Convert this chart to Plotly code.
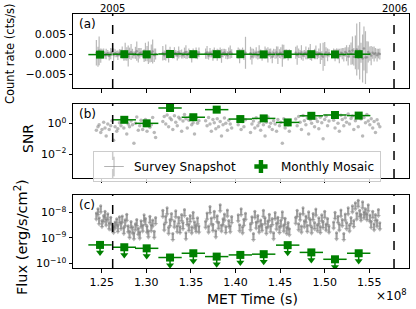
import plotly.graph_objects as go

# ---------------- data (time in units of 1e8 s MET) ----------------
snap_time = [
    1.2440, 1.2458, 1.2471, 1.2489, 1.2503, 1.2522, 1.2537, 1.2550, 1.2568, 1.2584,
    1.2601, 1.2615, 1.2633, 1.2650, 1.2668, 1.2681, 1.2699, 1.2716, 1.2730, 1.2748,
    1.2763, 1.2781, 1.2797, 1.2812, 1.2829, 1.2845, 1.2861, 1.2878, 1.2893, 1.2910,
    1.2926, 1.2941, 1.2959, 1.2975, 1.2990, 1.3008, 1.3023, 1.3040, 1.3056, 1.3071,
    1.3089, 1.3104,
    1.3185, 1.3201, 1.3218, 1.3233, 1.3250, 1.3266, 1.3282, 1.3297, 1.3315, 1.3330,
    1.3347, 1.3363, 1.3378, 1.3396, 1.3411, 1.3428, 1.3444, 1.3459, 1.3477, 1.3492,
    1.3509, 1.3525, 1.3540, 1.3558, 1.3574, 1.3590,
    1.3665, 1.3681, 1.3698, 1.3714, 1.3729, 1.3747, 1.3762, 1.3779, 1.3795, 1.3810,
    1.3828, 1.3843, 1.3860, 1.3876, 1.3891, 1.3909, 1.3924, 1.3941, 1.3957,
    1.4030, 1.4046, 1.4063, 1.4079, 1.4094, 1.4112, 1.4168, 1.4184, 1.4201, 1.4217,
    1.4232, 1.4250, 1.4265, 1.4282, 1.4298, 1.4313, 1.4331, 1.4346, 1.4363, 1.4379,
    1.4394, 1.4412, 1.4427, 1.4444, 1.4460, 1.4475, 1.4493, 1.4508, 1.4525, 1.4541,
    1.4556, 1.4574, 1.4590, 1.4603,
    1.4675, 1.4691, 1.4708, 1.4724, 1.4739, 1.4757, 1.4772, 1.4789, 1.4805, 1.4820,
    1.4838, 1.4853, 1.4870, 1.4886, 1.4901, 1.4919, 1.4934, 1.4951, 1.4967, 1.4982,
    1.5000, 1.5015, 1.5032, 1.5048,
    1.5100, 1.5116, 1.5133, 1.5149, 1.5164, 1.5182, 1.5197, 1.5214, 1.5230, 1.5245,
    1.5263, 1.5278, 1.5295, 1.5311, 1.5326, 1.5344, 1.5359, 1.5376, 1.5392, 1.5407,
    1.5425, 1.5440, 1.5457, 1.5473, 1.5488, 1.5506, 1.5521, 1.5538, 1.5554, 1.5569,
    1.5587, 1.5602, 1.5618,
]

# count rate and its error, in units of 1e-3 cts/s
snap_rate_mcts = [
    0.4, -0.6, 0.9, -0.3, 0.2, 0.5, -0.2, 0.1, 0.3, -0.4,
    0.2, 0.6, -0.1, 0.3, 0.1, -0.2, 0.4, 0.2, 0.5, -0.3,
    0.7, 0.1, -0.4, 0.3, 0.6, 0.2, -0.1, 0.4, 0.8, -0.2,
    0.3, 0.5, 0.1, -0.3, 0.6, 0.2, 0.4, -0.5, 0.3, 0.7,
    -0.2, 0.1,
    0.3, -0.2, 0.5, 0.1, -0.4, 0.6, 0.2, -0.1, 0.4, 0.3,
    -0.3, 0.5, 0.2, 0.1, -0.2, 0.4, 0.6, -0.1, 0.3, 0.2,
    -0.5, 0.4, 0.1, 0.3, -0.2, 0.5,
    0.2, 0.5, -0.3, 0.4, 0.1, -0.2, 0.6, 0.3, -0.1, 0.2,
    0.4, -0.4, 0.3, 0.5, 0.1, -0.2, 0.3, 0.6, 0.2,
    0.3, -0.4, 0.2, 0.5, -0.1, 0.4, 0.3, -0.5, 0.2, 0.1,
    0.4, -0.2, 0.6, 0.2, -0.3, 0.1, 0.5, 0.3, -0.1, 0.4,
    0.2, -0.6, 0.3, 0.1, 0.5, -0.2, 0.2, 0.4, -0.3, 0.6,
    0.1, 0.3, -0.2, 0.2,
    0.4, -0.2, 0.3, 0.1, 0.5, -0.3, 0.2, 0.4, -0.1, 0.3,
    0.6, -0.4, 0.2, 0.1, 0.5, -0.2, 0.3, 0.2, -0.3, -0.6,
    0.1, 0.5, -0.1, 0.3,
    0.3, -0.2, 0.5, 0.1, -0.4, 0.4, 0.2, -0.1, 0.6, 0.3,
    -0.5, 0.8, 0.2, 1.0, -0.6, 0.5, 1.2, -0.8, 0.9, 0.4,
    -1.0, 1.5, -0.8, -0.7, 0.6, 0.2, -0.3, 0.4, 0.1, 0.3,
    -0.2, 0.2, 0.1,
]
snap_err_mcts = [
    3.2, 2.5, 3.6, 1.8, 1.2, 1.0, 0.9, 1.3, 0.8, 1.1,
    1.4, 0.9, 1.6, 1.0, 0.8, 1.2, 0.9, 1.1, 1.5, 1.3,
    2.2, 1.7, 2.6, 1.4, 2.0, 1.2, 0.9, 1.5, 2.4, 1.8,
    1.3, 1.1, 0.9, 1.6, 2.3, 1.9, 2.8, 1.5, 2.2, 3.0,
    1.7, 1.4,
    1.8, 1.2, 2.0, 1.1, 1.6, 1.3, 0.9, 1.0, 1.4, 0.8,
    1.2, 1.5, 0.9, 1.1, 0.8, 1.3, 1.7, 1.0, 1.2, 0.9,
    1.5, 1.1, 0.8, 1.4, 1.0, 1.2,
    1.3, 1.6, 1.0, 1.2, 0.9, 1.4, 1.1, 0.8, 1.5, 1.0,
    1.3, 1.7, 1.1, 0.9, 1.2, 1.0, 1.4, 1.6, 1.1,
    1.4, 1.8, 1.1, 1.2, 1.3, 4.0, 1.6, 2.0, 1.2, 0.9,
    1.4, 1.1, 1.7, 1.0, 1.3, 0.8, 1.5, 1.2, 1.9, 1.0,
    1.3, 1.6, 1.1, 1.2, 1.5, 2.2, 1.1, 1.4, 2.8, 1.8,
    1.2, 1.0, 1.3, 1.1,
    1.5, 2.4, 1.2, 1.0, 1.8, 1.3, 0.9, 1.6, 1.1, 1.4,
    2.0, 1.2, 0.8, 1.3, 1.7, 1.0, 1.2, 2.6, 1.1, 3.5,
    3.0, 1.3, 1.6, 1.0,
    1.2, 1.5, 1.0, 1.3, 1.8, 1.1, 1.4, 1.7, 1.2, 2.0,
    2.3, 1.6, 2.8, 3.5, 2.2, 4.2, 6.5, 3.0, 7.2, 2.5,
    6.0, 5.5, 6.6, 4.0, 2.6, 1.8, 2.4, 1.5, 1.9, 1.3,
    1.6, 1.2, 1.4,
]
snap_snr = [
    0.35, 0.6, 0.8, 0.25, 0.4, 1.2, 0.5, 0.15, 0.9, 0.4,
    0.7, 1.5, 0.08, 0.6, 0.3, 0.45, 1.1, 0.7, 1.9, 0.5,
    2.1, 0.2, 0.9, 0.6, 1.4, 0.8, 0.05, 1.0, 2.6, 0.35,
    0.7, 1.6, 0.4, 0.9, 1.8, 0.3, 1.2, 0.55, 0.8, 2.4,
    0.25, 0.12,
    1.3, 2.8, 0.9, 3.5, 0.6, 2.2, 1.7, 0.4, 3.1, 1.2,
    0.7, 2.5, 1.9, 0.3, 1.4, 3.8, 2.0, 0.5, 1.6, 2.9,
    0.8, 1.1, 0.2, 2.3, 1.0, 1.5,
    1.5, 0.7, 2.4, 0.9, 0.3, 1.8, 1.1, 0.45, 2.0, 0.6,
    1.3, 0.15, 0.8, 2.2, 1.0, 0.35, 1.6, 0.9, 0.5,
    0.8, 2.1, 0.4, 1.3, 0.6, 1.7, 0.25, 0.9, 1.4, 0.5,
    2.3, 0.7, 1.1, 0.35, 1.9, 0.8, 0.15, 1.2, 2.6, 0.6,
    1.0, 0.4, 1.5, 0.9, 0.3, 1.8, 0.7, 1.2, 0.05, 2.0,
    0.5, 1.4, 0.8, 0.3,
    1.9, 0.7, 2.8, 1.2, 0.4, 3.2, 1.5, 0.8, 2.2, 0.2,
    1.7, 1.0, 3.6, 0.6, 2.0, 1.3, 0.45, 2.5, 1.1, 0.1,
    1.8, 2.9, 0.7, 1.4,
    1.6, 0.5, 2.7, 1.0, 0.3, 3.4, 1.8, 0.7, 2.3, 1.2,
    4.0, 0.9, 2.1, 3.0, 0.4, 1.5, 2.6, 0.6, 3.3, 1.9,
    0.15, 2.4, 1.1, 3.7, 1.4, 0.8, 2.0, 0.5, 1.3, 0.25,
    1.7, 0.9, 0.6,
]
# flux upper limits, in units of 1e-9 erg/s/cm^2
snap_flux_ul_e9 = [
    9.5, 14.0, 6.2, 18.0, 4.8, 7.5, 11.0, 5.5, 8.8, 3.9,
    6.5, 3.5, 2.8, 4.2, 5.6, 3.1, 6.8, 4.0, 7.2, 2.6,
    5.1, 8.5, 3.0, 1.8, 4.4, 2.7, 1.6, 3.6, 5.3, 2.4,
    1.7, 4.7, 3.2, 8.0, 5.8, 2.9, 1.9, 7.0, 3.3, 5.0,
    1.8, 6.3,
    12.0, 3.5, 7.0, 15.0, 2.6, 5.2, 9.0, 1.5, 4.6, 11.5,
    3.0, 6.4, 2.8, 8.2, 4.0, 13.0, 1.6, 5.8, 3.4, 7.6,
    2.7, 10.0, 4.3, 3.1, 6.1, 2.9,
    4.5, 9.5, 2.9, 17.0, 6.0, 3.4, 11.0, 1.9, 7.4, 4.1,
    20.0, 3.2, 5.6, 8.6, 2.8, 12.5, 4.8, 3.0, 6.9,
    8.0, 3.3, 14.0, 2.7, 5.4, 9.2, 3.6, 6.8, 1.5, 11.0,
    4.2, 7.5, 2.9, 5.0, 3.4, 12.0, 6.2, 2.6, 4.6, 8.4,
    3.0, 5.7, 1.6, 9.8, 3.8, 6.5, 2.8, 4.9, 10.5, 3.2,
    5.9, 2.6, 4.0, 2.3,
    6.5, 12.0, 3.6, 8.8, 2.9, 15.0, 4.7, 7.2, 3.1, 10.5,
    5.4, 2.7, 9.0, 4.0, 13.5, 3.3, 6.1, 2.8, 8.0, 4.4,
    11.0, 3.5, 5.8, 2.9,
    4.2, 10.0, 1.6, 7.0, 3.5, 12.5, 5.2, 1.5, 8.6, 4.0,
    15.0, 3.2, 6.3, 18.0, 4.8, 24.0, 9.5, 30.0, 12.0, 8.5,
    26.0, 10.5, 14.0, 9.0, 20.0, 7.8, 4.5, 11.0, 3.6, 8.2,
    5.0, 13.0, 3.9,
]

mosaic_time = [1.2481, 1.2753, 1.3004, 1.3266, 1.3527, 1.3789,
               1.4054, 1.4316, 1.4585, 1.4850, 1.5115, 1.5381]
mosaic_halfwidth = [0.0131] * 12          # half-month bins, 1e8 s
mosaic_rate_mcts = [-0.05, 0.05, 0.0, 0.1, 0.05, 0.05, 0.05, 0.0, 0.05, 0.05, 0.0, 0.05]
mosaic_rate_err_mcts = [0.15, 0.1, 0.1, 0.1, 0.1, 0.1, 0.1, 0.1, 0.1, 0.1, 0.1, 0.1]
mosaic_snr = [None, 1.7, 1.0, 10.0, 2.5, 7.8, 1.9, 2.1, 1.15, 3.1, 3.5, 3.2]
mosaic_flux_ul_e10 = [5.3, 4.3, 3.9, 1.7, 2.5, 1.85, 2.15, 2.3, 5.2, 2.7, 1.45, 2.5]

x_ticks = [1.25, 1.30, 1.35, 1.40, 1.45, 1.50, 1.55]
x_tick_labels = ["1.25", "1.30", "1.35", "1.40", "1.45", "1.50", "1.55"]
year_marks = [1.2623, 1.5777]
year_labels = ["2005", "2006"]

n = len(snap_time)
assert all(len(a) == n for a in [snap_rate_mcts, snap_err_mcts, snap_snr, snap_flux_ul_e9])

# ---------------- derived plotting quantities ----------------
rate = [v * 1e-3 for v in snap_rate_mcts]
rate_err = [v * 1e-3 for v in snap_err_mcts]
flux = [v * 1e-9 for v in snap_flux_ul_e9]
UL_FRAC = 0.55
flux_drop = [f * (1 - UL_FRAC) for f in flux]
flux_tip = [f * UL_FRAC for f in flux]

m_rate = [v * 1e-3 for v in mosaic_rate_mcts]
m_rate_err = [v * 1e-3 for v in mosaic_rate_err_mcts]
m_flux = [v * 1e-10 for v in mosaic_flux_ul_e10]
m_flux_drop = [f * (1 - 0.44) for f in m_flux]
m_flux_tip = [f * 0.5 for f in m_flux]

GRAY_ERR = "rgba(128,128,128,0.55)"
GRAY_PT = "rgba(128,128,128,0.65)"
GREEN = "#008000"
FONT = "DejaVu Sans"

fig = go.Figure()

# ----- panel (a) -----
fig.add_trace(go.Scatter(
    x=snap_time, y=rate, mode="markers", xaxis="x", yaxis="y", showlegend=False,
    marker=dict(size=2.5, color=GRAY_PT),
    error_y=dict(type="data", array=rate_err, color=GRAY_ERR, thickness=1.2, width=0),
))
fig.add_trace(go.Scatter(
    x=mosaic_time, y=m_rate, mode="markers", xaxis="x", yaxis="y", showlegend=False,
    marker=dict(symbol="square", size=8, color=GREEN),
    error_x=dict(type="data", array=mosaic_halfwidth, color=GREEN, thickness=1.5, width=0),
    error_y=dict(type="data", array=m_rate_err, color=GREEN, thickness=1.5, width=0),
))

# ----- panel (b) -----
fig.add_trace(go.Scatter(
    x=snap_time, y=snap_snr, mode="markers", xaxis="x2", yaxis="y2", showlegend=False,
    marker=dict(size=3.5, color="rgba(128,128,128,0.55)"),
))
fig.add_trace(go.Scatter(
    x=mosaic_time, y=mosaic_snr, mode="markers", xaxis="x2", yaxis="y2", showlegend=False,
    marker=dict(symbol="square", size=8, color=GREEN),
    error_x=dict(type="data", array=mosaic_halfwidth, color=GREEN, thickness=1.5, width=0),
))

# ----- panel (c) -----
fig.add_trace(go.Scatter(
    x=snap_time, y=flux, mode="markers", xaxis="x3", yaxis="y3", showlegend=False,
    marker=dict(size=3, color=GRAY_PT),
    error_y=dict(type="data", symmetric=False, array=[0] * n, arrayminus=flux_drop,
                 color="rgba(128,128,128,0.75)", thickness=2.2, width=0),
))
fig.add_trace(go.Scatter(
    x=snap_time, y=flux_tip, mode="markers", xaxis="x3", yaxis="y3", showlegend=False,
    marker=dict(symbol="triangle-down", size=4.5, color="rgba(140,140,140,0.6)"),
))
fig.add_trace(go.Scatter(
    x=mosaic_time, y=m_flux, mode="markers", xaxis="x3", yaxis="y3", showlegend=False,
    marker=dict(symbol="square", size=8, color=GREEN),
    error_x=dict(type="data", array=mosaic_halfwidth, color=GREEN, thickness=1.5, width=0),
    error_y=dict(type="data", symmetric=False, array=[0] * 12, arrayminus=m_flux_drop,
                 color=GREEN, thickness=1.5, width=0),
))
fig.add_trace(go.Scatter(
    x=mosaic_time, y=m_flux_tip, mode="markers", xaxis="x3", yaxis="y3", showlegend=False,
    marker=dict(symbol="triangle-down", size=7, color=GREEN),
))

# ----- legend-only traces -----
fig.add_trace(go.Scatter(
    x=[None], y=[None], mode="markers", xaxis="x2", yaxis="y2", name="Survey Snapshot",
    marker=dict(symbol="cross-thin-open", size=14, color="rgba(128,128,128,0.6)",
                line=dict(color="rgba(128,128,128,0.6)", width=1)),
))
fig.add_trace(go.Scatter(
    x=[None], y=[None], mode="markers", xaxis="x2", yaxis="y2", name="Monthly Mosaic",
    marker=dict(symbol="cross", size=11, color=GREEN),
))

# ----- axes -----
xr = [1.2178, 1.5945]
common_x = dict(range=xr, tickvals=x_ticks, ticktext=x_tick_labels, ticks="outside",
                ticklen=3.5, tickwidth=1, tickcolor="black", showline=True, linecolor="black",
                linewidth=1, mirror=True, showgrid=False, zeroline=False,
                tickfont=dict(family=FONT, size=11, color="black"))
common_y = dict(ticks="outside", ticklen=3.5, tickwidth=1, tickcolor="black", showline=True,
                linecolor="black", linewidth=1, mirror=True, showgrid=False, zeroline=False,
                tickfont=dict(family=FONT, size=11, color="black"))

H = 309 - 14 - 41
def frac(px_top, px_bottom):
    return [(268 - px_bottom) / H, (268 - px_top) / H]

fig.update_layout(
    width=416, height=309, autosize=False,
    margin=dict(l=73, r=7, t=14, b=41),
    paper_bgcolor="white", plot_bgcolor="white",
    font=dict(family=FONT, size=11, color="black"),
    xaxis=dict(common_x, anchor="y", showticklabels=False),
    xaxis2=dict(common_x, anchor="y2", showticklabels=False, matches="x"),
    xaxis3=dict(common_x, anchor="y3", showticklabels=True, matches="x"),
    yaxis=dict(common_y, domain=frac(14, 88), anchor="x", range=[-0.0084, 0.0101],
               tickvals=[-0.005, 0.0, 0.005], ticktext=["\u22120.005", "0.000", "0.005"]),
    yaxis2=dict(common_y, domain=frac(104, 178), anchor="x2", type="log", range=[-3.56, 1.26],
                tickvals=[1, 0.01], ticktext=["10<sup>0</sup>", "10<sup>\u22122</sup>"]),
    yaxis3=dict(common_y, domain=frac(195, 268), anchor="x3", type="log", range=[-10.18, -7.32],
                tickvals=[1e-10, 1e-9, 1e-8],
                ticktext=["10<sup>\u221210</sup>", "10<sup>\u22129</sup>", "10<sup>\u22128</sup>"]),
    legend=dict(orientation="h", x=(93 - 73) / 336, y=(268 - 151) / H, xanchor="left", yanchor="top",
                bgcolor="rgba(255,255,255,0.8)", bordercolor="#cccccc", borderwidth=1,
                font=dict(family=FONT, size=12, color="black")),
)

# ----- year lines -----
shapes = []
for xv in year_marks:
    for xa, ya in [("x", "y"), ("x2", "y2"), ("x3", "y3")]:
        shapes.append(dict(type="line", xref=xa, yref=f"{ya} domain", x0=xv, x1=xv, y0=0, y1=1,
                           line=dict(color="black", width=1.5, dash="dash")))
fig.update_layout(shapes=shapes)

ann = []
for xv, lab in zip(year_marks, year_labels):
    ann.append(dict(x=xv, xref="x", y=1, yref="paper", text=lab, showarrow=False,
                    xanchor="center", yanchor="bottom", yshift=-2,
                    font=dict(family=FONT, size=10, color="black")))
for lab, ya in [("(a)", "y"), ("(b)", "y2"), ("(c)", "y3")]:
    ann.append(dict(x=0.012, xref="x domain", y=0.98, yref=f"{ya} domain", text=lab,
                    showarrow=False, xanchor="left", yanchor="top",
                    font=dict(family=FONT, size=12, color="black")))
ylab = [("Count rate (cts/s)", 10, 54, 11.5), ("SNR", 28, 139, 14),
        ("Flux (erg/s/cm<sup>2</sup>)", 21, 237, 14.5)]
for txt, px, py, fs in ylab:
    ann.append(dict(x=(px - 73) / 336, xref="paper", y=(268 - py) / H, yref="paper", text=txt,
                    textangle=-90, showarrow=False, xanchor="center", yanchor="middle",
                    font=dict(family=FONT, size=fs, color="black")))
ann.append(dict(x=(252 - 73) / 336, xref="paper", y=(268 - 299) / H, yref="paper", text="MET Time (s)",
                showarrow=False, xanchor="center", yanchor="middle",
                font=dict(family=FONT, size=14, color="black")))
ann.append(dict(x=1.0, xref="paper", y=(268 - 295) / H, yref="paper", text="\u00d710<sup>8</sup>",
                showarrow=False, xanchor="right", yanchor="middle",
                font=dict(family=FONT, size=12, color="black")))
fig.update_layout(annotations=ann)

fig.write_html("out.html", config={"displayModeBar": False},
               post_script="document.body.style.margin='0px';")
